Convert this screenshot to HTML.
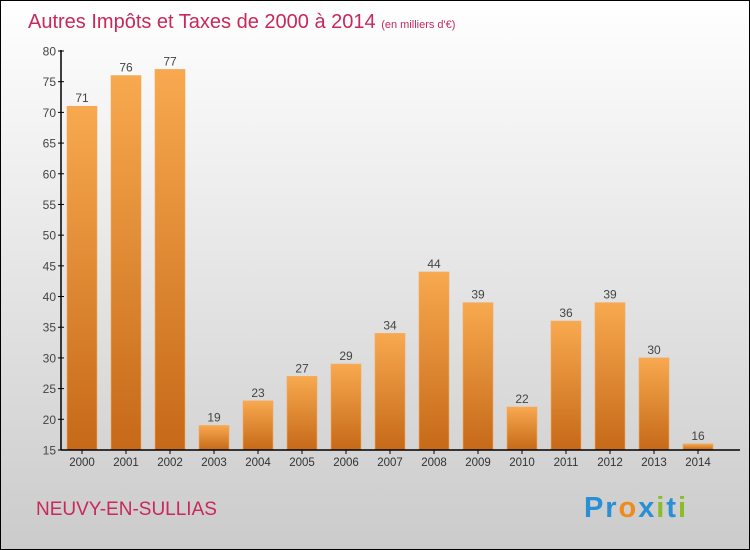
<!DOCTYPE html>
<html><head><meta charset="utf-8"><style>
body{margin:0}
svg{display:block;font-family:"Liberation Sans",sans-serif}
</style></head><body>
<svg width="750" height="550" viewBox="0 0 750 550">
<defs>
<linearGradient id="bg" x1="0" y1="0" x2="0" y2="1"><stop offset="0" stop-color="#ffffff"/><stop offset="1" stop-color="#cbcbcb"/></linearGradient>
<linearGradient id="bar" x1="0" y1="0" x2="0" y2="1"><stop offset="0" stop-color="#f8a94f"/><stop offset="1" stop-color="#c66918"/></linearGradient>
</defs>
<rect x="0.5" y="0.5" width="749" height="549" fill="url(#bg)" stroke="#000"/>
<text x="28" y="28" font-size="20" fill="#c8285a">Autres Impôts et Taxes de 2000 à 2014 <tspan font-size="11">(en milliers d'€)</tspan></text>
<g id="yaxis"></g>
<g id="bars"></g>
<g id="xaxis"></g>
<text x="36" y="515" font-size="19" fill="#c8285a">NEUVY-EN-SULLIAS</text>
<text x="584" y="517" font-size="29" font-weight="bold" textLength="102"><tspan fill="#2a8fd4">Pr</tspan><tspan fill="#f08a1c">o</tspan><tspan fill="#2a8fd4">x</tspan><tspan fill="#8bbd2a">i</tspan><tspan fill="#2a8fd4">t</tspan><tspan fill="#8bbd2a">i</tspan></text>
</svg>
<script>
const categories=["2000","2001","2002","2003","2004","2005","2006","2007","2008","2009","2010","2011","2012","2013","2014"];
const values=[71,76,77,19,23,27,29,34,44,39,22,36,39,30,16];
const yTicks=[15,20,25,30,35,40,45,50,55,60,65,70,75,80];
const NS="http://www.w3.org/2000/svg";
const y0=450,y1=51,vmin=15,vmax=80;
function ys(v){return y0-(v-vmin)/(vmax-vmin)*(y0-y1);}
function xs(i){return 82+44*i;}
function mk(t,a,p){const e=document.createElementNS(NS,t);for(const k in a)e.setAttribute(k,a[k]);p.appendChild(e);return e;}
const ya=document.getElementById('yaxis'),ba=document.getElementById('bars'),xa=document.getElementById('xaxis');
mk('line',{x1:61,y1:y1-1,x2:61,y2:y0,stroke:'#000','stroke-width':1.5},ya);
mk('line',{x1:61,y1:y0,x2:740,y2:y0,stroke:'#000','stroke-width':1.5},xa);
yTicks.forEach(v=>{
 const y=ys(v);
 const l=mk('line',{x1:58,y1:y,x2:64,y2:y,stroke:'#000'},ya);
 
 
 const t=mk('text',{x:56,y:y+4.5,'text-anchor':'end','font-size':12,fill:'#444'},ya);
 t.textContent=v;
 
 
});
categories.forEach((c,i)=>{
 const x=xs(i),v=values[i],y=ys(v);
 const r=mk('rect',{x:x-15,y:y,width:30,height:y0-y,fill:'url(#bar)',stroke:'#f5a860','stroke-width':0.6},ba);
 
 
 const t=mk('text',{x:x,y:y-4,'text-anchor':'middle','font-size':12,fill:'#444'},ba);
 t.textContent=v;
 
 
 const tk=mk('line',{x1:x,y1:y0,x2:x,y2:y0+4,stroke:'#000'},xa);
 
 
 const xl=mk('text',{x:x,y:y0+16,'text-anchor':'middle','font-size':11.5,fill:'#333'},xa);
 xl.textContent=c;
 
 
});
</script>
</body></html>
